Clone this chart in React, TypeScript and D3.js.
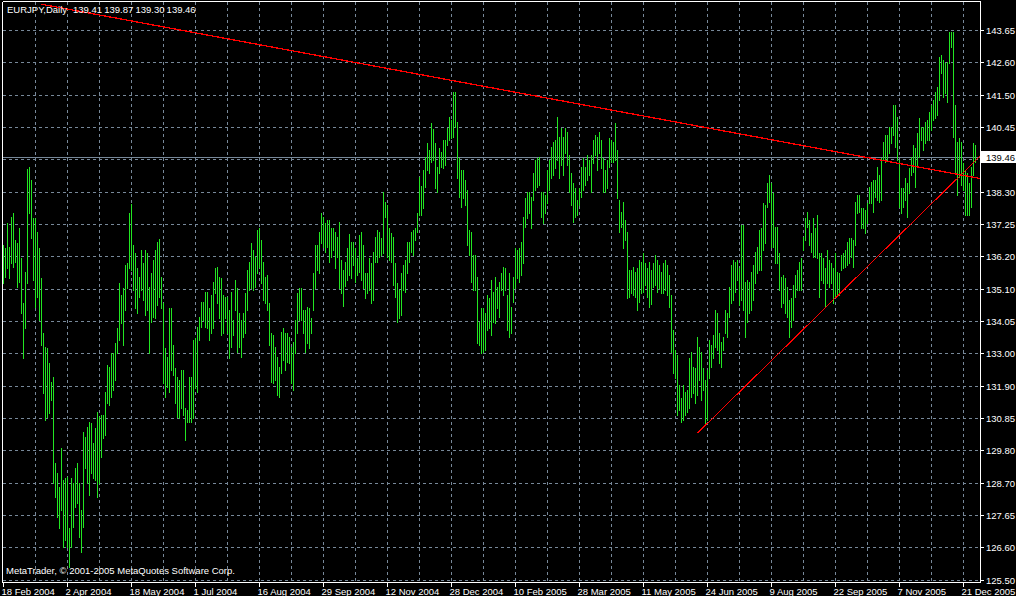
import React from 'react';
import * as d3 from 'd3';

// ---- data ----
const SYMBOL = 'EURJPY,Daily';
const LAST_OHLC = [139.41, 139.87, 139.30, 139.46];
const COPYRIGHT = 'MetaTrader, \u00A9 2001-2005 MetaQuotes Software Corp.';

const HIGH = [
  136.56,136.45,137.27,136.50,137.49,137.60,136.72,136.61,137.11,136.12,
  134.63,135.68,139.05,139.12,138.70,137.44,137.44,137.00,136.45,135.46,
  133.64,133.20,133.15,132.65,132.05,132.21,129.35,129.02,128.58,129.85,
  128.80,128.86,128.91,127.21,128.86,128.69,129.19,129.35,128.69,127.81,
  130.40,130.23,130.56,130.73,130.67,130.01,130.50,131.06,130.89,130.95,
  130.95,131.72,132.60,132.54,132.98,132.98,133.31,133.81,135.29,134.91,
  135.13,135.90,135.95,137.60,137.91,136.56,136.28,135.79,135.51,136.39,
  135.95,136.39,136.28,135.18,135.62,136.06,136.39,136.67,136.74,135.51,
  134.63,133.15,132.87,134.47,134.47,133.26,132.49,132.21,132.10,132.43,
  132.43,131.17,131.11,132.21,132.21,133.42,133.48,133.86,134.19,134.69,
  134.69,135.02,135.02,134.47,134.91,135.35,135.79,135.84,135.51,135.46,
  134.91,134.85,134.85,134.41,135.02,134.08,135.40,135.13,134.30,134.08,
  134.30,134.96,135.73,136.01,136.61,136.39,136.17,137.05,137.11,136.72,
  136.01,135.51,135.57,134.63,133.64,133.59,133.20,132.87,132.54,133.70,
  133.81,133.64,133.64,133.53,133.20,133.37,134.08,134.96,135.13,135.13,
  134.41,134.41,134.52,134.47,134.14,135.62,136.56,136.56,137.00,137.60,
  137.49,137.27,137.38,137.38,
  137.11,137.11,137.00,136.83,137.33,136.06,
  135.73,136.00,136.45,136.92,136.67,136.67,136.45,136.12,136.89,137.00,
  136.56,135.62,135.62,136.12,135.95,136.34,136.83,137.05,137.00,136.78,
  138.32,137.99,137.88,137.11,136.94,136.83,135.95,135.29,135.07,135.62,
  135.90,136.06,136.67,136.67,137.00,137.05,137.11,137.60,138.81,138.50,
  139.03,139.47,139.91,139.69,140.57,140.37,139.91,139.14,139.75,139.64,
  140.02,140.02,140.41,140.79,140.68,141.62,141.62,140.63,139.42,139.03,
  139.03,138.70,138.37,137.05,137.00,136.23,136.23,135.51,134.03,134.47,
  134.47,134.30,134.91,134.80,135.40,135.02,135.51,135.18,135.35,135.62,
  135.84,135.79,134.91,135.62,134.52,135.51,136.45,136.39,136.45,136.67,
  137.49,138.10,138.32,138.32,138.15,138.92,139.36,139.42,139.47,138.32,
  138.32,138.21,139.03,139.36,139.80,139.97,140.02,140.79,140.13,140.41,
  140.13,140.41,140.30,139.53,138.92,138.59,138.43,138.04,138.43,139.14,
  139.42,139.14,139.53,139.36,139.53,140.02,140.19,140.13,140.30,140.02,
  139.42,139.03,139.36,140.08,140.02,139.97,140.57,139.69,138.04,137.66,
  137.99,137.38,137.00,135.73,135.73,135.84,135.68,135.79,136.06,136.00,
  136.28,135.95,135.79,136.00,
  135.73,135.95,136.23,136.06,135.90,135.68,
  135.95,136.06,135.90,135.57,134.91,133.75,133.09,132.93,131.94,131.50,
  131.94,131.72,131.77,132.82,133.04,132.54,132.49,133.53,133.20,133.04,
  132.49,132.10,132.43,133.42,133.26,133.59,134.41,134.30,133.64,133.37,
  133.53,134.41,134.30,135.18,135.90,136.06,136.00,136.06,135.79,137.22,
  137.22,135.35,135.40,135.35,135.68,135.90,136.34,136.50,137.05,137.11,
  137.93,137.88,138.59,138.87,138.59,138.26,137.16,137.16,136.28,135.51,
  135.57,135.46,135.18,134.74,134.80,135.24,135.57,135.73,136.00,136.12,
  136.83,137.44,137.66,137.38,136.94,137.44,137.11,137.55,136.28,136.28,
  136.12,135.79,136.39,136.06,135.95,135.79,136.28,135.68,135.62,136.23,
  136.28,136.39,136.67,136.78,136.78,136.72,137.99,138.21,138.21,137.77,
  137.77,137.71,137.93,138.48,138.65,138.70,138.70,139.14,138.87,139.42,
  139.97,140.19,140.19,140.46,140.46,141.18,141.18,140.79,139.36,138.43,
  138.43,138.76,138.59,139.09,139.47,139.86,139.75,140.24,140.74,140.46,
  140.46,140.63,140.68,140.96,141.18,141.34,141.62,141.78,142.77,142.83,
  142.66,142.55,142.61,143.60,143.60,143.60,141.18,139.97,140.08,139.97,
  139.25,139.03,138.92,138.59,139.14,139.91,139.87,
];

const LOW = [
  135.29,135.51,135.79,135.46,135.95,135.84,136.01,135.18,135.35,134.30,
  132.82,133.81,135.29,137.60,136.78,135.40,134.52,134.85,134.08,133.26,
  131.66,130.78,130.89,131.00,131.44,128.69,128.25,127.59,127.21,127.81,
  126.60,126.82,126.60,125.94,126.60,127.26,127.92,128.03,126.93,126.44,
  127.26,129.19,128.69,128.31,129.02,128.86,128.80,128.25,128.69,129.57,
  130.18,130.29,131.33,131.28,131.55,131.77,132.10,132.98,133.42,133.97,
  133.26,134.41,135.13,135.79,135.73,135.07,134.47,134.30,134.85,135.07,
  134.74,134.25,134.41,132.98,134.03,134.19,134.14,134.58,134.85,134.47,
  131.99,131.55,131.88,131.72,132.43,132.27,131.33,130.89,130.84,131.17,
  130.95,130.12,130.73,130.73,130.73,130.84,131.83,131.72,133.42,133.86,
  134.08,133.86,133.81,133.42,133.64,133.81,134.96,134.63,134.14,133.59,
  133.64,134.14,133.64,132.82,133.20,133.59,134.41,133.04,133.20,132.87,
  133.53,133.64,134.41,135.07,135.13,135.07,135.18,135.62,135.84,135.29,
  134.74,134.63,134.41,133.26,132.05,131.99,132.10,131.61,131.55,132.32,
  132.76,132.43,132.70,132.65,131.99,131.77,132.98,133.64,134.08,134.08,
  133.64,133.04,133.31,133.15,133.64,134.41,135.13,135.73,135.62,136.61,
  136.50,136.34,136.50,136.01,
  136.17,136.39,135.79,136.17,135.13,134.96,
  134.54,135.20,135.40,135.57,135.46,135.90,135.35,135.57,135.68,135.40,
  135.13,134.80,134.96,135.07,134.63,134.74,136.00,136.00,136.17,136.23,
  136.28,137.49,136.17,136.06,136.00,135.24,134.85,134.03,134.14,134.25,
  135.07,135.02,135.62,136.00,136.34,136.23,136.72,137.00,137.55,137.55,
  137.77,138.48,139.03,138.92,139.31,139.36,138.43,138.32,138.92,139.14,
  139.09,139.20,139.86,140.02,140.08,140.13,140.46,138.76,138.15,137.82,
  138.10,137.88,136.56,136.23,135.35,135.07,135.07,133.31,133.26,132.98,
  133.04,133.09,133.75,133.81,133.59,134.03,133.97,134.47,134.19,135.07,
  134.91,135.07,133.75,133.53,133.64,134.69,135.13,135.46,135.35,135.57,
  135.95,137.16,137.44,137.60,137.11,138.04,138.37,138.48,138.54,137.49,
  137.27,137.60,137.93,138.37,138.76,138.87,139.09,139.36,138.76,139.20,
  138.87,139.58,139.20,138.32,137.88,137.33,137.49,137.55,137.88,138.15,
  138.37,138.54,138.70,138.87,138.32,139.25,139.53,139.03,139.58,139.09,
  138.32,138.32,138.43,139.14,139.31,139.31,139.36,138.10,137.00,137.16,
  136.45,136.72,134.80,134.85,134.96,134.91,134.85,134.41,134.69,134.96,
  135.02,135.24,134.85,134.52,
  134.60,135.18,135.24,135.02,135.13,134.96,
  134.96,135.07,134.91,134.52,133.04,132.32,132.16,130.95,131.11,130.73,
  130.78,130.95,131.06,131.17,131.55,131.66,131.33,131.61,132.10,131.44,
  131.77,130.62,130.78,132.16,132.54,132.82,133.20,133.09,132.65,132.54,
  133.09,133.64,133.53,134.19,134.63,134.74,135.02,135.40,134.58,134.74,
  134.41,133.53,134.03,134.30,134.41,134.74,135.29,135.62,135.73,135.73,
  136.39,136.61,137.82,137.99,136.50,136.50,135.95,135.95,135.07,134.52,
  134.63,134.30,134.19,133.53,133.86,134.08,134.85,135.07,135.07,135.07,
  136.39,136.72,137.16,136.56,136.34,136.17,136.17,136.12,134.85,135.40,
  135.29,134.52,135.29,135.18,135.29,134.63,134.85,134.91,134.91,135.73,
  135.79,135.84,135.90,135.95,136.17,135.84,136.56,137.60,137.66,137.11,
  137.11,136.94,137.27,137.93,137.93,137.66,138.15,138.04,137.99,138.04,
  139.36,139.31,139.36,139.58,139.91,140.19,139.80,139.36,137.82,137.60,
  137.82,138.04,137.49,138.26,138.87,138.98,138.48,139.14,139.47,140.02,
  139.69,139.91,140.02,140.02,140.35,140.68,140.74,140.85,141.34,142.22,
  141.45,141.56,141.29,142.55,143.10,140.13,138.98,138.21,138.81,138.54,
  138.37,137.55,137.55,137.55,137.82,138.87,139.30,
];

const PRICE_LABELS = [
  '125.50','126.60','127.65','128.70','129.80','130.85','131.90','133.00','134.05',
  '135.10','136.20','137.25','138.30','139.40','140.45','141.50','142.60','143.65',
];

const DATE_LABELS = [
  '18 Feb 2004','2 Apr 2004','18 May 2004','1 Jul 2004','16 Aug 2004','29 Sep 2004',
  '12 Nov 2004','28 Dec 2004','10 Feb 2005','28 Mar 2005','11 May 2005','24 Jun 2005',
  '9 Aug 2005','22 Sep 2005','7 Nov 2005','21 Dec 2005',
];
const BARS_PER_LABEL = 32;
const BARS_PER_GRID = 16;

// trend lines: [barIndex, price] anchors
const TREND_UPPER = [[19, 144.50], [485, 138.79]];
const TREND_LOWER = [[347, 130.35], [486, 139.34]];

// ---- layout ----
const W = 1016, H = 596;
const L = 3, R = 980, T = 2, B = 582;
const FONT = '"Liberation Sans", Arial, sans-serif';
const FS = 9.5;
const GRID = '#778899';
const BAR = '#22e622';

export default function App() {
  const n = HIGH.length;
  const x = d3.scaleLinear().domain([0, n - 1]).range([3.5, 3.5 + 2 * (n - 1)]);
  const y = d3.scaleLinear().domain([125.5, 143.65]).range([580, 30]);

  const bars = d3.range(n).map((i) => {
    const yt = Math.round(y(HIGH[i]));
    const yb = Math.round(y(LOW[i])) + 1;
    return `M${x(i)},${yt}V${Math.max(yb, yt + 1)}`;
  }).join('');

  const hGrid = PRICE_LABELS.map((s) => Math.round(y(parseFloat(s))) + 0.5);
  const vGridIdx = d3.range(BARS_PER_GRID, n, BARS_PER_GRID).filter((i) => x(i) < R);
  const labelIdx = DATE_LABELS.map((_, k) => k * BARS_PER_LABEL);

  const ray = (a: number[][]) => {
    const [[i1, p1], [i2, p2]] = a;
    const slope = (p2 - p1) / (i2 - i1);
    const iEnd = x.invert(R + 2);
    return { x1: x(i1), y1: y(p1), x2: x(iEnd), y2: y(p1 + (iEnd - i1) * slope) };
  };
  const up = ray(TREND_UPPER);
  const lo = ray(TREND_LOWER);

  const close = LAST_OHLC[3];
  const yc = Math.round(y(close)) + 0.5;

  return (
    <svg width={W} height={H} style={{ position: 'absolute', left: 0, top: 0, display: 'block', background: '#000' }}
      fontFamily={FONT} fontSize={FS}>
      <defs>
        <clipPath id="plot"><rect x={L} y={T} width={R - L} height={B - T} /></clipPath>
      </defs>
      <rect x={0} y={0} width={W} height={H} fill="#000" />
      <g shapeRendering="crispEdges" stroke={GRID} strokeWidth={1} strokeDasharray="3,3">
        {hGrid.map((gy, k) => <line key={'h' + k} x1={L} x2={R} y1={gy} y2={gy} />)}
        {vGridIdx.map((i) => <line key={'v' + i} x1={x(i)} x2={x(i)} y1={T} y2={B} />)}
      </g>
      <line x1={L} x2={R} y1={yc} y2={yc} stroke={GRID} strokeWidth={1} shapeRendering="crispEdges" />
      <path d={bars} stroke={BAR} strokeWidth={1} fill="none" shapeRendering="crispEdges" />
      <g clipPath="url(#plot)" stroke="#ff0000" fill="none" shapeRendering="crispEdges">
        <line {...up} strokeWidth={1.3} />
        <line {...lo} strokeWidth={1} />
      </g>
      {/* frame */}
      <g stroke="#fff" strokeWidth={1} shapeRendering="crispEdges" fill="none">
        <line x1={2.5} x2={2.5} y1={1.5} y2={B + 0.5} />
        <line x1={2.5} x2={R + 0.5} y1={1.5} y2={1.5} />
        <line x1={R + 0.5} x2={R + 0.5} y1={1.5} y2={B + 0.5} />
        <line x1={2.5} x2={R + 0.5} y1={B + 0.5} y2={B + 0.5} />
        {hGrid.map((gy, k) => <line key={'pt' + k} x1={R} x2={R + 4} y1={gy} y2={gy} />)}
        {labelIdx.map((i) => <line key={'tt' + i} x1={x(i)} x2={x(i)} y1={B} y2={B + 5} />)}
      </g>
      <g fill="#fff">
        {PRICE_LABELS.map((s, k) => (
          <text key={'pl' + k} x={986} y={hGrid[k] + 3.5}>{s}</text>
        ))}
        {DATE_LABELS.map((s, k) => (
          <text key={'dl' + k} x={x(labelIdx[k]) - 2} y={594.5}>{s}</text>
        ))}
        <text x={7} y={12.5}>{SYMBOL}</text>
        {LAST_OHLC.map((v, k) => (
          <text key={'o' + k} x={73 + k * 31.2} y={12.5}>{v.toFixed(2)}</text>
        ))}
        <text x={6} y={574}>{COPYRIGHT}</text>
      </g>
      <rect x={981} y={yc - 6.5} width={35} height={12} fill="#fff" />
      <text x={986} y={yc + 3.5} fill="#000">{close.toFixed(2)}</text>
    </svg>
  );
}
